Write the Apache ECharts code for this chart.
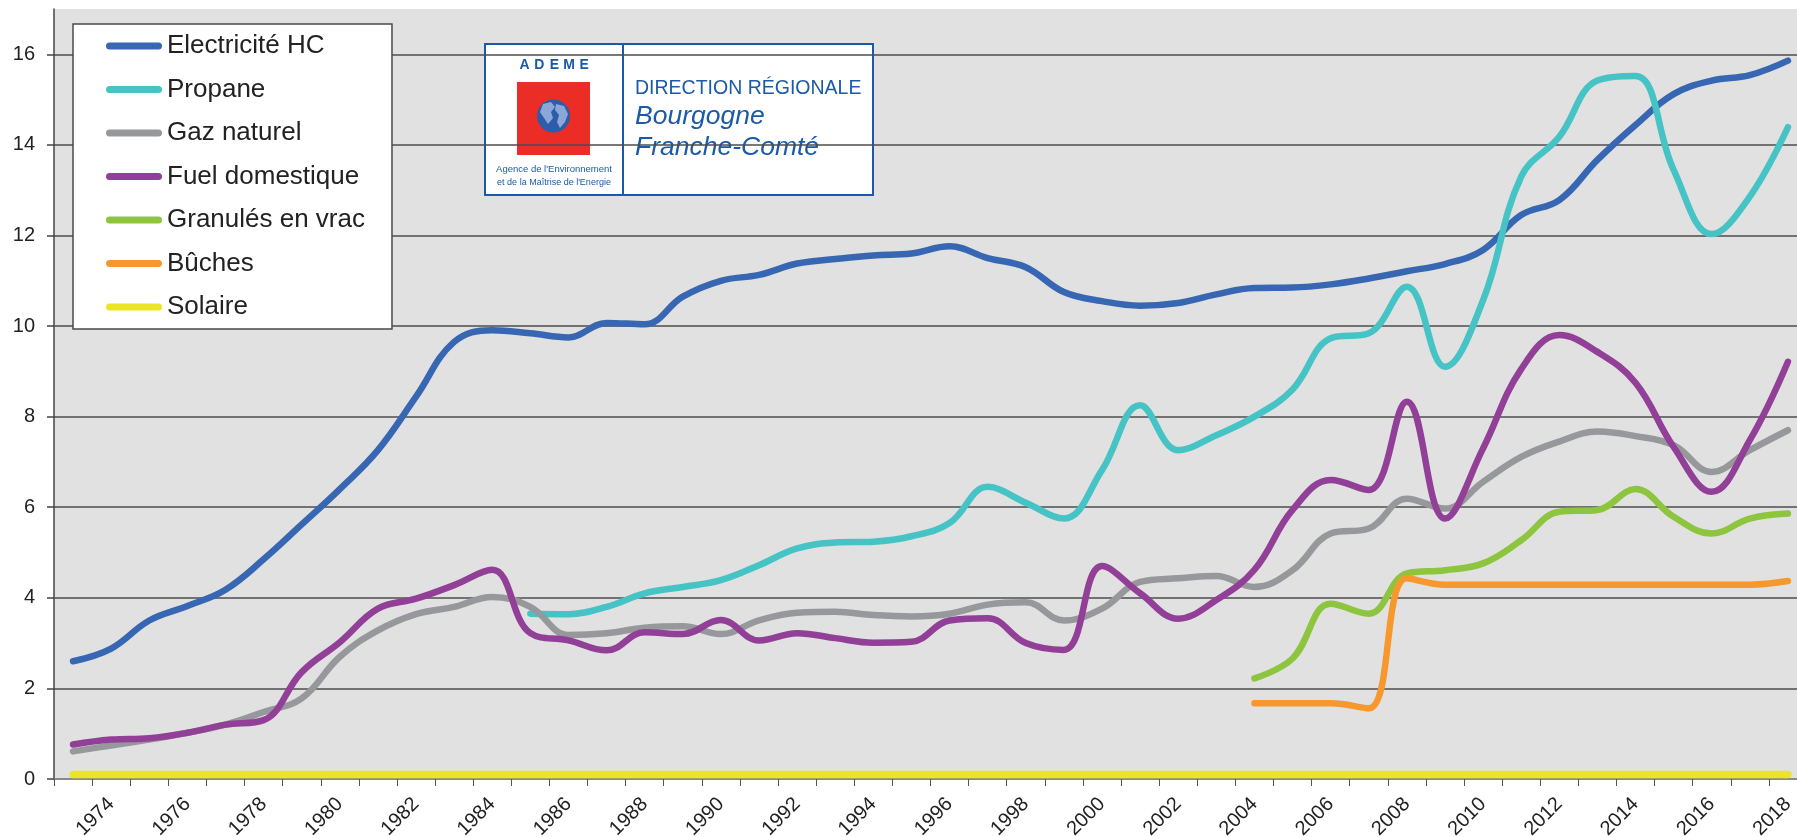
<!DOCTYPE html>
<html><head><meta charset="utf-8">
<script src="https://cdn.jsdelivr.net/npm/echarts@6/dist/echarts.min.js"></script>
<style>html,body{margin:0;padding:0;background:#fff}#c{width:1797px;height:837px}</style>
</head><body><div id="c"></div>
<script>
const years = ['1973','1974','1975','1976','1977','1978','1979','1980','1981','1982','1983','1984','1985','1986','1987','1988','1989','1990','1991','1992','1993','1994','1995','1996','1997','1998','1999','2000','2001','2002','2003','2004','2005','2006','2007','2008','2009','2010','2011','2012','2013','2014','2015','2016','2017','2018'];

const electricite = [2.6,2.88,3.5,3.82,4.18,4.85,5.62,6.4,7.26,8.44,9.65,9.91,9.84,9.75,10.07,10.04,10.65,11.0,11.13,11.38,11.48,11.56,11.6,11.76,11.5,11.3,10.75,10.55,10.45,10.51,10.7,10.84,10.85,10.92,11.05,11.21,11.37,11.68,12.45,12.78,13.67,14.44,15.12,15.42,15.54,15.86];
const propane = [null,null,null,null,null,null,null,null,null,null,null,null,3.65,3.64,3.8,4.1,4.24,4.39,4.72,5.09,5.22,5.24,5.36,5.65,6.45,6.1,5.75,6.82,8.25,7.26,7.59,8.0,8.6,9.73,9.84,10.87,9.1,10.57,13.3,14.18,15.42,15.52,13.45,12.03,12.86,14.39];
const gazNaturel = [0.61,0.74,0.87,1.02,1.2,1.48,1.78,2.7,3.28,3.64,3.8,4.02,3.8,3.18,3.22,3.34,3.37,3.2,3.5,3.67,3.69,3.62,3.59,3.65,3.85,3.9,3.5,3.76,4.35,4.43,4.48,4.24,4.61,5.42,5.53,6.19,5.97,6.56,7.11,7.45,7.67,7.57,7.37,6.78,7.26,7.7];
const fuel = [0.76,0.87,0.9,1.02,1.2,1.3,2.36,3.02,3.76,3.98,4.28,4.62,3.22,3.06,2.84,3.24,3.2,3.51,3.06,3.22,3.11,3.01,3.03,3.5,3.55,3.0,2.85,4.7,4.1,3.54,3.95,4.62,5.94,6.6,6.38,8.33,5.75,7.3,9.05,9.8,9.43,8.75,7.33,6.34,7.48,9.21];
const granules = [null,null,null,null,null,null,null,null,null,null,null,null,null,null,null,null,null,null,null,null,null,null,null,null,null,null,null,null,null,null,null,2.22,2.66,3.87,3.65,4.54,4.61,4.76,5.27,5.9,5.94,6.4,5.79,5.42,5.75,5.86];
const buches = [null,null,null,null,null,null,null,null,null,null,null,null,null,null,null,null,null,null,null,null,null,null,null,null,null,null,null,null,null,null,null,1.67,1.67,1.67,1.56,4.43,4.29,4.29,4.29,4.29,4.29,4.29,4.29,4.29,4.29,4.37];
const solaire = [0.1,0.1,0.1,0.1,0.1,0.1,0.1,0.1,0.1,0.1,0.1,0.1,0.1,0.1,0.1,0.1,0.1,0.1,0.1,0.1,0.1,0.1,0.1,0.1,0.1,0.1,0.1,0.1,0.1,0.1,0.1,0.1,0.1,0.1,0.1,0.1,0.1,0.1,0.1,0.1,0.1,0.1,0.1,0.1,0.1,0.1];

const seriesNames = ['Electricité HC','Propane','Gaz naturel','Fuel domestique','Granulés en vrac','Bûches','Solaire'];
const seriesData = [electricite, propane, gazNaturel, fuel, granules, buches, solaire];
const seriesColors = ['#3767b3','#46c3c5','#97989b','#923f97','#8dc53e','#f7982f','#ebe625'];
const yTicks = [0,2,4,6,8,10,12,14,16];

const BLUE = '#1b5aa7';
const FONT = 'Liberation Sans, Arial, sans-serif';

const chart = echarts.init(document.getElementById('c'), null, {renderer:'canvas'});

const series = seriesNames.map((n, i) => ({
  name: n, type: 'line', data: seriesData[i], smooth: 0.4, symbol: 'none',
  connectNulls: false,
  lineStyle: {color: seriesColors[i], width: i === 6 ? 7.5 : 6.5, cap: 'round', join: 'round'},
  itemStyle: {color: seriesColors[i]},
  emphasis: {disabled: true}
}));

const splitColors = yTicks.map(() => '#4d4d4d').concat(['#b0b0b0']);

const ademe = ['A','D','E','M','E'].map((ch, i) => ({
  type: 'text', x: 39.5 + i * 14.9, y: 21,
  style: {text: ch, fill: BLUE, fontSize: 14, fontWeight: 'bold', fontFamily: FONT, align: 'center', verticalAlign: 'middle'}
}));

const option = {
  animation: false,
  backgroundColor: '#fff',
  grid: {left: 54, top: 9, width: 1753, height: 770, show: true, backgroundColor: '#e1e1e1', borderWidth: 0,
    containLabel: false, outerBoundsMode: 'none'},
  legend: {
    orient: 'vertical', left: 73, top: 24,
    data: seriesNames,
    backgroundColor: '#fff', borderColor: '#4a4a4a', borderWidth: 1.5, borderRadius: 0,
    padding: [9, 27, 9, 33], itemGap: 17.5, itemWidth: 56, itemHeight: 7,
    icon: 'path://M3.5,0H52.5A3.5,3.5 0 0 1 52.5,7H3.5A3.5,3.5 0 0 1 3.5,0Z',
    textStyle: {fontSize: 26, color: '#222', fontFamily: FONT},
    selectedMode: false
  },
  xAxis: {
    type: 'category', data: years, boundaryGap: true,
    axisLine: {show: true, lineStyle: {color: '#8a8a8a', width: 2}},
    axisTick: {show: true, interval: 0, length: 7, lineStyle: {color: '#555', width: 1}},
    axisLabel: {interval: (idx, val) => Number(val) % 2 === 0, rotate: 45, fontSize: 20, margin: 22, color: '#222', fontFamily: FONT},
    splitLine: {show: false}
  },
  yAxis: {
    type: 'value', min: 0, max: 17, interval: 2,
    axisLine: {show: true, lineStyle: {color: '#444', width: 1.5}},
    axisTick: {show: true, length: 7, customValues: yTicks, lineStyle: {color: '#444', width: 1.5}},
    axisLabel: {fontSize: 20, color: '#222', margin: 19, fontFamily: FONT,
      formatter: v => (yTicks.indexOf(v) >= 0 ? String(v) : '')},
    splitLine: {show: true, lineStyle: {color: splitColors, width: 1.5}}
  },
  graphic: [{
    type: 'group', x: 485, y: 44, z: 100,
    children: [
      {type: 'rect', shape: {x: 0, y: 0, width: 388, height: 151}, style: {fill: '#fff', stroke: BLUE, lineWidth: 2}},
      {type: 'line', shape: {x1: 138, y1: 0, x2: 138, y2: 151}, style: {stroke: BLUE, lineWidth: 2}},
      ...ademe,
      {type: 'rect', shape: {x: 32, y: 38, width: 73, height: 73}, style: {fill: '#ec2d25'}},
      {type: 'circle', shape: {cx: 68.5, cy: 72, r: 16.5}, style: {fill: '#2d5ca9'}},
      {type: 'polygon', shape: {points: [[58,60],[66,58],[70,63],[66,68],[68,74],[63,80],[59,74],[55,68]]}, style: {fill: '#8ba7d8'}},
      {type: 'polygon', shape: {points: [[71,60],[79,62],[83,70],[80,78],[75,84],[72,78],[74,71],[70,66]]}, style: {fill: '#8ba7d8'}},
      {type: 'text', x: 69, y: 125, style: {text: "Agence de l'Environnement", fill: BLUE, fontSize: 9.5, fontFamily: FONT, align: 'center', verticalAlign: 'middle'}},
      {type: 'text', x: 69, y: 139, style: {text: "et de la Maîtrise de l'Energie", fill: BLUE, fontSize: 9, fontFamily: FONT, align: 'center', verticalAlign: 'middle'}},
      {type: 'text', x: 150, y: 44.5, style: {text: 'DIRECTION RÉGIONALE', fill: BLUE, fontSize: 19.5, fontFamily: FONT, align: 'left', verticalAlign: 'middle'}},
      {type: 'text', x: 150, y: 73, style: {text: 'Bourgogne', fill: BLUE, fontSize: 26.5, fontStyle: 'italic', fontFamily: FONT, align: 'left', verticalAlign: 'middle'}},
      {type: 'text', x: 150, y: 104, style: {text: 'Franche-Comté', fill: BLUE, fontSize: 26.5, fontStyle: 'italic', fontFamily: FONT, align: 'left', verticalAlign: 'middle'}}
    ]
  }],
  series: series
};
chart.setOption(option);
</script>
</body></html>
